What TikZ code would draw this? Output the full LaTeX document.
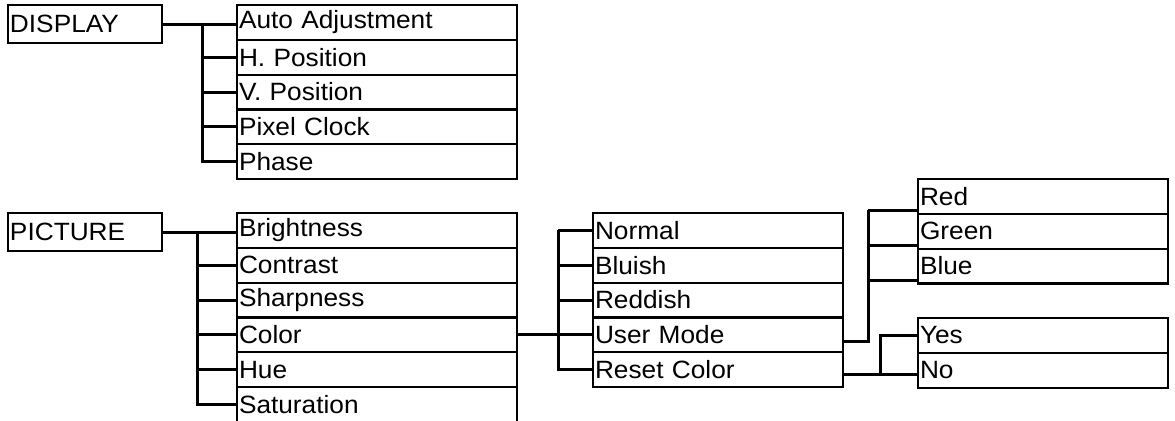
\documentclass[tikz,border=0pt]{standalone}
\usepackage{fontspec}
\setmainfont[FakeStretch=1.05]{Liberation Sans}
\usetikzlibrary{positioning}
\tikzset{every node/.style={node distance=0pt}}

\begin{document}
\begin{tikzpicture}[x=0.5pt, y=-0.5pt,
    menu/.style={draw, line width=1.1pt, outer sep=0pt, inner xsep=1pt, inner ysep=0pt,
      minimum height=19pt, text width=75pt, align=left, anchor=north west,
      font=\fontsize{12.5}{14}\selectfont},
    item/.style={menu, minimum height=17.4pt, text width=138pt},
    subitem/.style={item, text width=123pt},
    link/.style={line width=1.5pt}]

    \useasboundingbox (0,0) rectangle (1175,420);

    % Main menus
    \node[menu] (display) at (8,5) {DISPLAY};
    \node[menu] (picture) at (8,213) {PICTURE};

    % Display submenu
    \node[item] (auto) at (237,5) {Auto Adjustment};
    \node[item] (hpos) [below=of auto] {H. Position};
    \node[item] (vpos) [below=of hpos] {V. Position};
    \node[item] (clock) [below=of vpos] {Pixel Clock};
    \node[item] (phase) [below=of clock] {Phase};

    % Picture submenu
    \node[item] (bright) at (237,213) {Brightness};
    \node[item] (contrast) [below=of bright] {Contrast};
    \node[item] (sharp) [below=of contrast] {Sharpness};
    \node[item] (color) [below=of sharp] {Color};
    \node[item] (hue) [below=of color] {Hue};
    \node[item] (satur) [below=of hue] {Saturation};

    % Color submenu
    \node[subitem] (normal) at (593,213) {Normal};
    \node[subitem] (bluish) [below=of normal] {Bluish};
    \node[subitem] (reddish) [below=of bluish] {Reddish};
    \node[subitem] (usermode) [below=of reddish] {User Mode};
    \node[subitem] (reset) [below=of usermode] {Reset Color};

    % User mode and reset
    \node[subitem] (red) at (918,179) {Red};
    \node[subitem] (green) [below=of red] {Green};
    \node[subitem] (blue) [below=of green] {Blue};
    \node[subitem] (yes) at (918,318) {Yes};
    \node[subitem] (no) [below=of yes] {No};

    % Display links
    \coordinate (dbar) at ([xshift=-17.5pt]auto.west);
    \draw[link] (display.east) -- (display.east -| auto.west);
    \draw[link] (dbar |- display.east) |- (phase.west);
    \foreach \n in {hpos,vpos,clock}
        \draw[link] (dbar |- \n.west) -- (\n.west);

    % Picture links
    \coordinate (pbar) at ([xshift=-20pt]bright.west);
    \draw[link] (picture.east) -- (picture.east -| bright.west);
    \draw[link] (pbar |- picture.east) |- (satur.west);
    \foreach \n in {contrast,sharp,color,hue}
        \draw[link] (pbar |- \n.west) -- (\n.west);

    % Color links
    \coordinate (cbar) at ([xshift=-17.5pt]normal.west);
    \draw[link] (color.east) -- (usermode.west);
    \draw[link] (cbar |- normal.west) -- (normal.west);
    \draw[link] (cbar |- normal.west) |- (reset.west);
    \foreach \n in {bluish,reddish}
        \draw[link] (cbar |- \n.west) -- (\n.west);

    % User mode links
    \coordinate (ubar) at ([xshift=-25pt]red.west);
    \coordinate (utap) at ([yshift=-3.5pt]usermode.east);
    \foreach \n in {red,green,blue} {
        \coordinate (\n tap) at ([yshift=-7pt]\n.west);
        \draw[link] (ubar |- \n tap) -- (\n tap);
    }
    \draw[link] (utap) -| (ubar |- redtap);

    % Reset links
    \coordinate (rbar) at ([xshift=-19pt]yes.west);
    \coordinate (rtap) at ([yshift=-2.5pt]reset.east);
    \draw[link] (rtap) -- (rtap -| no.west);
    \draw[link] (rtap -| rbar) |- (yes.west);

\end{tikzpicture}
\end{document}
